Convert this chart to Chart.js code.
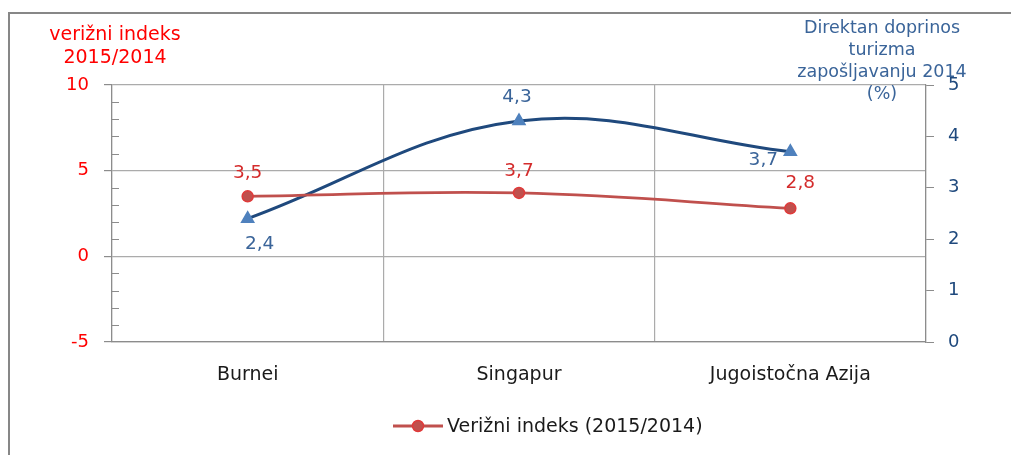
<!DOCTYPE html>
<html>
<head>
<meta charset="utf-8">
<script src="https://cdn.jsdelivr.net/npm/chart.js@4"></script>
<style>
  html, body { margin: 0; padding: 0; background: #fff; }
  #c { display: block; }
</style>
</head>
<body>
<canvas id="c" width="1011" height="455"></canvas>
<script>
// ---- data ----
const categories = ['Burnei', 'Singapur', 'Jugoistočna Azija'];
const indexValues = [3.5, 3.7, 2.8];          // Verižni indeks (2015/2014), left axis
const tourismValues = [2.4, 4.3, 3.7];        // Direktan doprinos turizma zapošljavanju 2014 (%), right axis
const indexLabels = ['3,5', '3,7', '2,8'];
const tourismLabels = ['2,4', '4,3', '3,7'];
const leftTitle = ['verižni indeks', '2015/2014'];
const rightTitle = ['Direktan doprinos', 'turizma', 'zapošljavanju 2014', '(%)'];
const legendText = 'Verižni indeks (2015/2014)';

// ---- styling ----
const FONT = '"DejaVu Sans", sans-serif';
const RED_LINE = '#C0504D';
const RED_TEXT = '#FF0000';
const RED_LABEL = '#D42C2C';
const BLUE_LINE = '#1F497D';
const BLUE_MARK = '#4F81BD';
const BLUE_TEXT = '#3A6499';
const GRID = '#ABABAB';
const AXIS = '#8C8C8C';
// label offsets (px) relative to each point
const indexLabelOffsets = [[0, -23], [0, -22], [10, -25]];
const tourismLabelOffsets = [[12, 26], [-2, -24], [-27, 8]];

const decor = {
  id: 'decor',
  beforeDraw(chart) {
    const ctx = chart.ctx;
    ctx.save();
    ctx.fillStyle = '#fff';
    ctx.fillRect(0, 0, chart.width, chart.height);
    ctx.strokeStyle = '#878787';
    ctx.lineWidth = 2;
    ctx.beginPath();
    ctx.moveTo(9, chart.height);
    ctx.lineTo(9, 13);
    ctx.lineTo(chart.width, 13);
    ctx.stroke();
    ctx.restore();
  },
  afterDatasetsDraw(chart) {
    const ctx = chart.ctx;
    const y = chart.scales.y;
    const area = chart.chartArea;
    ctx.save();
    // minor ticks inside on left axis
    ctx.strokeStyle = AXIS;
    ctx.lineWidth = 1;
    for (let v = y.min; v <= y.max; v++) {
      if (v % 5 === 0) continue;
      const py = Math.round(y.getPixelForValue(v)) + 0.5;
      ctx.beginPath();
      ctx.moveTo(area.left, py);
      ctx.lineTo(area.left + 7, py);
      ctx.stroke();
    }
    // data labels
    ctx.font = '18.5px ' + FONT;
    ctx.textAlign = 'center';
    ctx.textBaseline = 'middle';
    const m0 = chart.getDatasetMeta(0).data;
    const m1 = chart.getDatasetMeta(1).data;
    ctx.fillStyle = RED_LABEL;
    m0.forEach((p, i) => ctx.fillText(indexLabels[i], p.x + indexLabelOffsets[i][0], p.y + indexLabelOffsets[i][1]));
    ctx.fillStyle = BLUE_TEXT;
    m1.forEach((p, i) => ctx.fillText(tourismLabels[i], p.x + tourismLabelOffsets[i][0], p.y + tourismLabelOffsets[i][1]));

    // axis titles
    ctx.textBaseline = 'alphabetic';
    ctx.font = '19px ' + FONT;
    ctx.fillStyle = RED_TEXT;
    leftTitle.forEach((t, i) => ctx.fillText(t, 115, 40 + i * 23));
    ctx.font = '17.5px ' + FONT;
    ctx.fillStyle = BLUE_TEXT;
    rightTitle.forEach((t, i) => ctx.fillText(t, 882, 33 + i * 22));

    // legend
    const ly = 426;
    ctx.strokeStyle = RED_LINE;
    ctx.lineWidth = 3;
    ctx.beginPath();
    ctx.moveTo(393, ly);
    ctx.lineTo(443, ly);
    ctx.stroke();
    ctx.beginPath();
    ctx.arc(418, ly, 5.5, 0, Math.PI * 2);
    ctx.fillStyle = RED_LINE;
    ctx.fill();
    ctx.lineWidth = 1.5;
    ctx.strokeStyle = '#E03A3A';
    ctx.stroke();
    ctx.fillStyle = '#1a1a1a';
    ctx.font = '19px ' + FONT;
    ctx.textAlign = 'left';
    ctx.textBaseline = 'middle';
    ctx.fillText(legendText, 447, ly + 1);
    ctx.restore();
  }
};

new Chart(document.getElementById('c'), {
  type: 'line',
  data: {
    labels: categories,
    datasets: [
      {
        label: legendText,
        data: indexValues,
        yAxisID: 'y',
        borderColor: RED_LINE,
        borderWidth: 2.75,
        backgroundColor: RED_LINE,
        pointBackgroundColor: RED_LINE,
        pointBorderColor: '#E03A3A',
        pointBorderWidth: 1.5,
        pointRadius: 5.5,
        pointStyle: 'circle',
        tension: 0.4,
        fill: false
      },
      {
        label: 'Direktan doprinos turizma zapošljavanju 2014 (%)',
        data: tourismValues,
        yAxisID: 'y1',
        borderColor: BLUE_LINE,
        borderWidth: 3,
        backgroundColor: BLUE_MARK,
        pointBackgroundColor: BLUE_MARK,
        pointBorderColor: BLUE_MARK,
        pointRadius: 5.5,
        pointStyle: 'triangle',
        tension: 0.38,
        fill: false
      }
    ]
  },
  options: {
    responsive: false,
    animation: false,
    layout: { padding: { top: 85, left: 0, right: 0, bottom: 0 } },
    plugins: {
      legend: { display: false },
      tooltip: { enabled: false }
    },
    scales: {
      x: {
        offset: true,
        grid: { offset: true, color: GRID, drawTicks: false, lineWidth: 1.2 },
        border: { color: AXIS, width: 1.2 },
        ticks: { color: '#1a1a1a', font: { family: FONT, size: 19 }, padding: 22 },
        afterFit(s) { s.height = 113; }
      },
      y: {
        position: 'left',
        min: -5,
        max: 10,
        ticks: { stepSize: 5, color: RED_TEXT, font: { family: FONT, size: 18 }, padding: 15 },
        grid: { color: GRID, tickColor: AXIS, tickLength: 8, lineWidth: 1.2 },
        border: { color: AXIS, width: 1.2 },
        afterFit(s) { s.width = 112; }
      },
      y1: {
        position: 'right',
        min: 0,
        max: 5,
        ticks: { stepSize: 1, color: BLUE_LINE, font: { family: FONT, size: 18 }, padding: 14 },
        grid: { drawOnChartArea: false, color: AXIS, tickLength: 8 },
        border: { color: AXIS, width: 1.2 },
        afterFit(s) { s.width = 85; }
      }
    }
  },
  plugins: [decor]
});
</script>
</body>
</html>
